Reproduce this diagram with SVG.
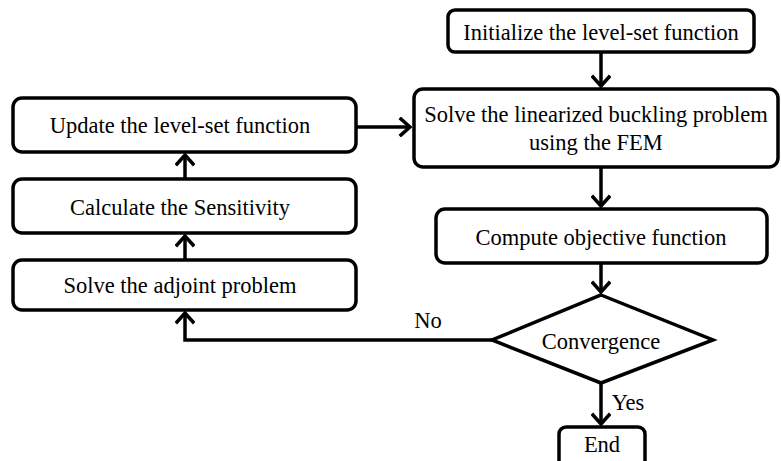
<svg xmlns="http://www.w3.org/2000/svg" width="781" height="461" viewBox="0 0 781 461">
<defs>
<marker id="ah" markerUnits="userSpaceOnUse" viewBox="-12 -10 14 20" refX="0" refY="0" markerWidth="14" markerHeight="20" orient="auto">
<path d="M-9,-8 L0,0 L-9,8" fill="none" stroke="#000" stroke-width="3.5" stroke-linecap="square" stroke-linejoin="miter"/>
</marker>
<style>
.box{fill:#fff;stroke:#000;stroke-width:3.5}
.t{font-family:"Liberation Serif","Times New Roman",serif;font-size:22.5px;fill:#000;text-anchor:middle}
.c{fill:none;stroke:#000;stroke-width:3.5;marker-end:url(#ah)}
</style>
</defs>
<rect width="781" height="461" fill="#fff"/>
<g id="connectors">
<path class="c" d="M601,52 V86"/>
<path class="c" d="M601,167 V206"/>
<path class="c" d="M601,263 V292"/>
<path class="c" d="M601,383 V424"/>
<path class="c" d="M356,127 H410"/>
<path class="c" d="M185,179 V155"/>
<path class="c" d="M185,260 V236"/>
<path class="c" d="M492,340 H185 V313"/>
<text class="t" x="428" y="328">No</text>
<text class="t" x="628" y="410">Yes</text>
</g>
<g id="init">
<rect class="box" x="448" y="10" width="306" height="42" rx="7"/>
<text class="t" x="601" y="40">Initialize the level-set function</text>
</g>
<g id="fem">
<rect class="box" x="414" y="89" width="364" height="78" rx="9"/>
<text class="t" x="596" y="122">Solve the linearized buckling problem</text>
<text class="t" x="596" y="150">using the FEM</text>
</g>
<g id="compute">
<rect class="box" x="436" y="209" width="331" height="54" rx="9"/>
<text class="t" x="601" y="245">Compute objective function</text>
</g>
<g id="convergence">
<polygon class="box" points="601,295 713,340 601,383 492,340"/>
<text class="t" x="601" y="349">Convergence</text>
</g>
<g id="end">
<rect class="box" x="559" y="427" width="86" height="42" rx="7"/>
<text class="t" x="602" y="452">End</text>
</g>
<g id="update">
<rect class="box" x="13" y="98" width="343" height="54" rx="9"/>
<text class="t" x="180" y="133">Update the level-set function</text>
</g>
<g id="calc">
<rect class="box" x="13" y="179" width="343" height="54" rx="9"/>
<text class="t" x="180" y="215">Calculate the Sensitivity</text>
</g>
<g id="adjoint">
<rect class="box" x="13" y="260" width="343" height="50" rx="9"/>
<text class="t" x="180" y="293">Solve the adjoint problem</text>
</g>
</svg>
